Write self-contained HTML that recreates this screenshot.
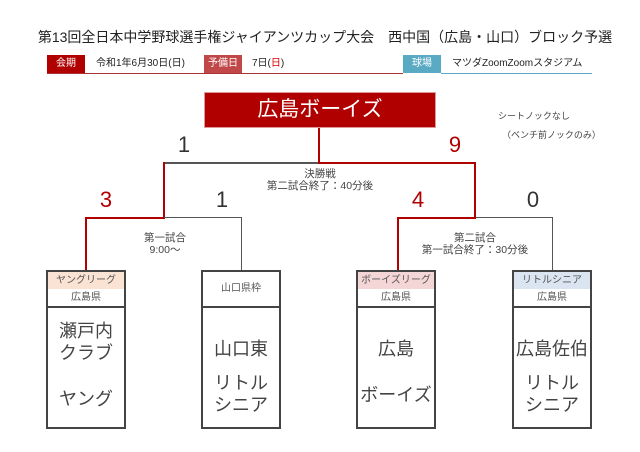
<!DOCTYPE html><html><head><meta charset="utf-8"><style>
body{margin:0;width:640px;height:452px;background:#fff;position:relative;font-family:"Liberation Sans","Noto Sans CJK JP",sans-serif;color:#333;overflow:hidden}
.a{position:absolute}
.l{position:absolute;background:#555}
.r{position:absolute;background:#b00000}
.box{position:absolute;width:76px;height:155px;border:2px solid #444;background:#fff}
.h1{height:17px;font-size:10px;text-align:center;line-height:17px;color:#555}
.h2{height:17px;font-size:10px;text-align:center;line-height:17px;border-bottom:2px solid #444;color:#555}
.nm{font-size:18px;text-align:center;line-height:22px;color:#444}
.sc{position:absolute;font-size:22px;width:30px;text-align:center;line-height:24px}
</style></head><body>
<div class="a" style="left:0;width:650px;top:27px;text-align:center;font-size:14px;color:#222">第13回全日本中学野球選手権ジャイアンツカップ大会　西中国（広島・山口）ブロック予選</div>
<div class="a" style="left:47px;top:55px;width:38px;height:18px;background:#b00000;color:#fff;font-size:10px;line-height:18px;text-align:center">会期</div>
<div class="a" style="left:96px;top:55px;font-size:10px;line-height:18px;color:#222">令和1年6月30日(日)</div>
<div class="a" style="left:204px;top:55px;width:38px;height:18px;background:#c04848;color:#fff;font-size:10px;line-height:18px;text-align:center">予備日</div>
<div class="a" style="left:252px;top:55px;font-size:10px;line-height:18px;color:#222">7日(<span style="color:#d00">日</span>)</div>
<div class="a" style="left:403px;top:55px;width:38px;height:18px;background:#5aaac4;color:#fff;font-size:10px;line-height:18px;text-align:center">球場</div>
<div class="a" style="left:452px;top:55px;font-size:10px;line-height:18px;color:#222">マツダZoomZoomスタジアム</div>
<div class="r" style="left:47px;top:73px;width:356px;height:1px;background:#a33"></div>
<div class="a" style="left:441px;top:73px;width:151px;height:1px;background:#5aaac4"></div>

<div class="a" style="left:204px;top:92px;width:230px;height:34px;background:#b00000;border:1px solid #d99;color:#fff;font-size:21px;text-align:center;line-height:34px">広島ボーイズ</div>
<div class="a" style="left:498px;top:109px;font-size:9px;color:#444">シートノックなし</div>
<div class="a" style="left:502px;top:128px;font-size:9px;color:#444">（ベンチ前ノックのみ）</div>

<div class="r" style="left:318px;top:128px;width:2px;height:36px"></div>
<div class="l" style="left:164px;top:162px;width:155px;height:2px"></div>
<div class="r" style="left:318px;top:162px;width:158px;height:2px"></div>
<div class="r" style="left:163px;top:162px;width:2px;height:57px"></div>
<div class="r" style="left:474px;top:162px;width:2px;height:57px"></div>
<div class="r" style="left:85px;top:217px;width:80px;height:2px"></div>
<div class="l" style="left:164px;top:217px;width:78px;height:1px"></div>
<div class="r" style="left:85px;top:217px;width:2px;height:54px"></div>
<div class="l" style="left:241px;top:217px;width:1px;height:54px"></div>
<div class="r" style="left:397px;top:217px;width:79px;height:2px"></div>
<div class="l" style="left:476px;top:217px;width:77px;height:1px"></div>
<div class="r" style="left:397px;top:217px;width:2px;height:54px"></div>
<div class="l" style="left:552px;top:217px;width:1px;height:54px"></div>

<div class="sc" style="left:169px;top:133px;color:#333">1</div>
<div class="sc" style="left:440px;top:133px;color:#b00000">9</div>
<div class="sc" style="left:91px;top:188px;color:#b00000">3</div>
<div class="sc" style="left:207px;top:188px;color:#333">1</div>
<div class="sc" style="left:403px;top:188px;color:#b00000">4</div>
<div class="sc" style="left:518px;top:188px;color:#333">0</div>

<div class="a" style="left:220px;top:168px;width:200px;text-align:center;font-size:10.5px;line-height:12px;color:#444">決勝戦<br>第二試合終了：40分後</div>
<div class="a" style="left:100px;top:232px;width:130px;text-align:center;font-size:10.5px;line-height:12px;color:#444">第一試合<br>9:00～</div>
<div class="a" style="left:400px;top:232px;width:150px;text-align:center;font-size:10.5px;line-height:12px;color:#444">第二試合<br>第一試合終了：30分後</div>

<div class="box" style="left:46px;top:270px">
<div class="h1" style="background:#fbe3d4">ヤングリーグ</div><div class="h2">広島県</div>
<div class="nm" style="margin-top:12px">瀬戸内<br>クラブ</div><div class="nm" style="margin-top:24px">ヤング</div></div>
<div class="box" style="left:201px;top:270px">
<div class="h1" style="height:34px;line-height:34px;border-bottom:2px solid #444">山口県枠</div>
<div class="nm" style="margin-top:30px">山口東</div><div class="nm" style="margin-top:12px">リトル<br>シニア</div></div>
<div class="box" style="left:356px;top:270px">
<div class="h1" style="background:#f5d6d6">ボーイズリーグ</div><div class="h2">広島県</div>
<div class="nm" style="margin-top:30px">広島</div><div class="nm" style="margin-top:24px">ボーイズ</div></div>
<div class="box" style="left:512px;top:270px">
<div class="h1" style="background:#dbe5f1">リトルシニア</div><div class="h2">広島県</div>
<div class="nm" style="margin-top:30px">広島佐伯</div><div class="nm" style="margin-top:12px">リトル<br>シニア</div></div>
</body></html>
